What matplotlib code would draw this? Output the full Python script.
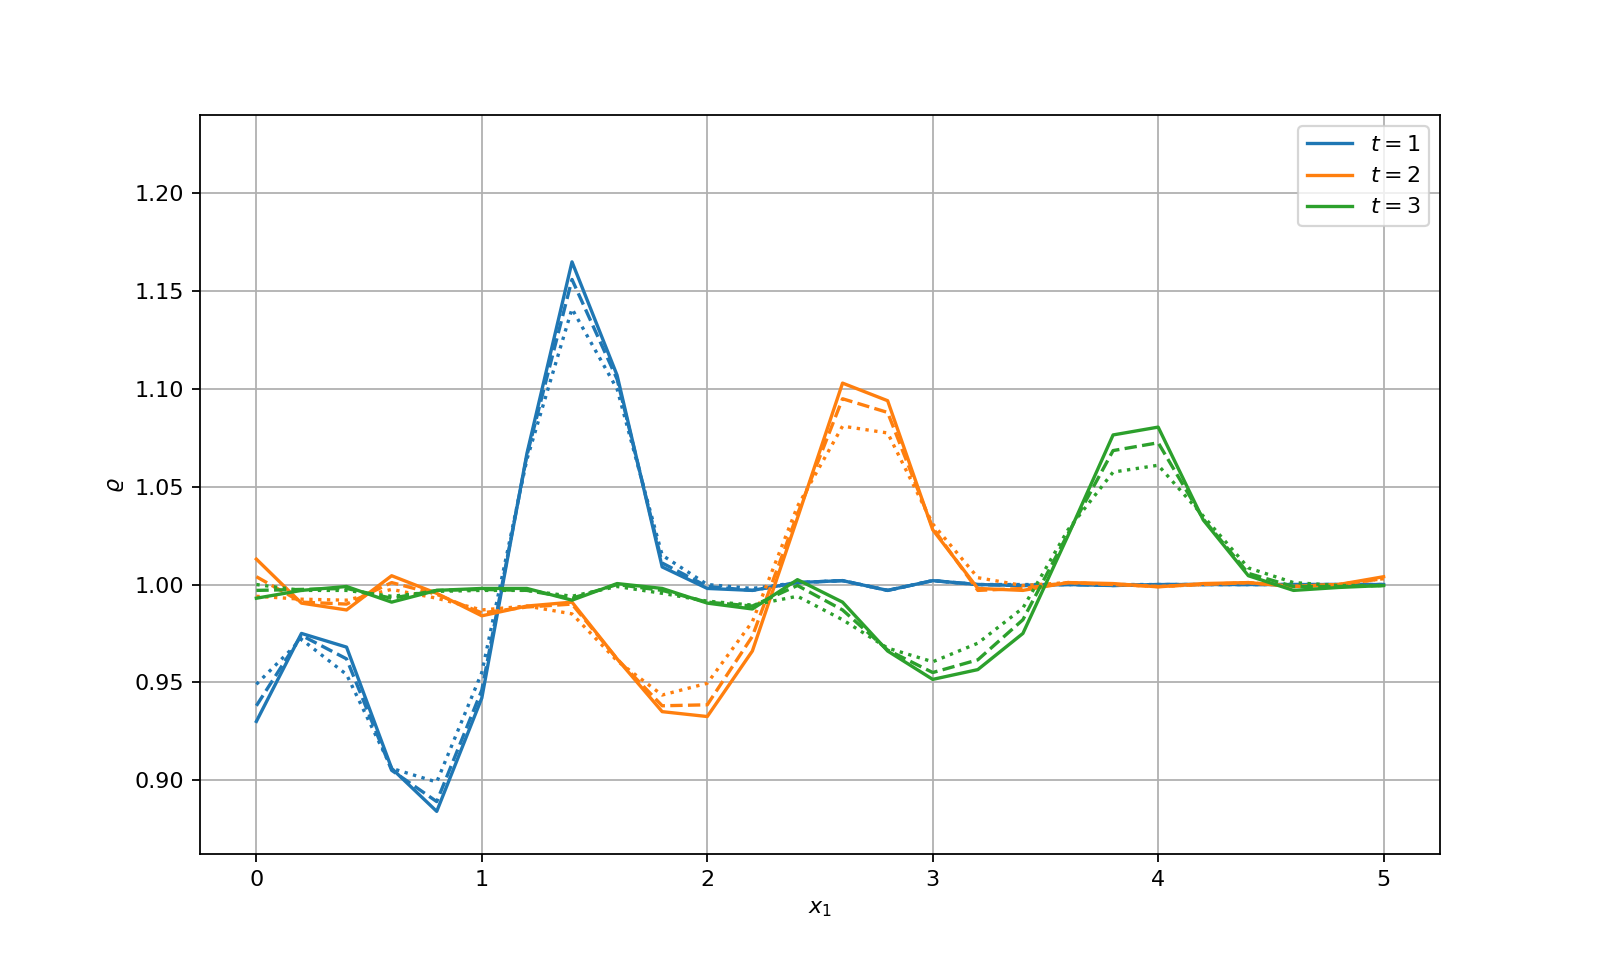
import numpy as np
import matplotlib
matplotlib.use('Agg')
import matplotlib.pyplot as plt

x = np.round(np.arange(0, 5.01, 0.2), 1)

# density at t = 1, 2, 3; three resolutions each (solid / dashed / dotted)
rho_t1 = [
    [0.930, 0.975, 0.968, 0.906, 0.884, 0.942, 1.067, 1.165, 1.107, 1.009, 0.998, 0.997, 1.001,
     1.002, 0.997, 1.002, 1.000, 0.9995, 1.000, 0.9995, 1.000, 1.000, 1.000, 1.000, 1.000, 1.000],
    [0.938, 0.974, 0.962, 0.905, 0.889, 0.946, 1.066, 1.156, 1.105, 1.011, 0.999, 0.997, 1.001,
     1.002, 0.997, 1.002, 1.000, 0.9995, 1.000, 0.9995, 1.000, 1.000, 1.000, 1.000, 1.000, 1.000],
    [0.949, 0.972, 0.954, 0.906, 0.899, 0.955, 1.064, 1.141, 1.100, 1.015, 1.000, 0.998, 1.001,
     1.002, 0.997, 1.002, 1.000, 1.000, 1.000, 1.000, 1.000, 1.000, 1.000, 1.000, 1.000, 1.000],
]
rho_t2 = [
    [1.013, 0.9905, 0.987, 1.0045, 0.9955, 0.984, 0.989, 0.991, 0.962, 0.935, 0.9325, 0.966, 1.034,
     1.103, 1.094, 1.028, 0.998, 0.997, 1.001, 1.0005, 0.9988, 1.0005, 1.001, 0.999, 1.000, 1.004],
    [1.004, 0.991, 0.990, 1.001, 0.995, 0.9855, 0.9885, 0.990, 0.962, 0.938, 0.9385, 0.9735, 1.036,
     1.095, 1.088, 1.029, 0.997, 0.998, 1.001, 1.000, 0.999, 1.000, 1.001, 0.999, 1.000, 1.003],
    [0.994, 0.9925, 0.992, 0.9975, 0.993, 0.987, 0.989, 0.985, 0.961, 0.9435, 0.9495, 0.981, 1.040,
     1.081, 1.0775, 1.031, 1.0035, 0.9995, 1.001, 1.000, 0.999, 1.000, 1.001, 0.999, 1.000, 1.003],
]
rho_t3 = [
    [0.993, 0.997, 0.999, 0.991, 0.997, 0.998, 0.998, 0.992, 1.0005, 0.998, 0.9905, 0.9875, 1.0025,
     0.991, 0.966, 0.9515, 0.9565, 0.975, 1.025, 1.0765, 1.0805, 1.033, 1.0045, 0.997, 0.9985, 0.9995],
    [0.997, 0.9975, 0.998, 0.993, 0.997, 0.9975, 0.997, 0.993, 1.000, 0.997, 0.991, 0.989, 0.9995,
     0.987, 0.9665, 0.955, 0.9615, 0.982, 1.026, 1.0685, 1.0725, 1.0335, 1.0057, 0.999, 0.999, 0.9995],
    [1.000, 0.997, 0.997, 0.994, 0.9965, 0.997, 0.997, 0.994, 0.999, 0.9955, 0.9915, 0.9895, 0.994,
     0.982, 0.9675, 0.9605, 0.970, 0.988, 1.028, 1.0575, 1.061, 1.035, 1.0085, 1.001, 0.9995, 0.9995],
]

times = [1, 2, 3]
colors = ['C0', 'C1', 'C2']
styles = ['-', '--', ':']

fig, ax = plt.subplots(figsize=(10, 6), dpi=160)

for t, c, runs in zip(times, colors, [rho_t1, rho_t2, rho_t3]):
    for k, (ls, y) in enumerate(zip(styles, runs)):
        ax.plot(x, y, color=c, linestyle=ls,
                label=f'$t = {t}$' if k == 0 else None)

ax.set_ylim(0.862, 1.24)
ax.set_xlabel('$x_1$')
ax.set_ylabel(r'$\varrho$')
ax.grid(True)
ax.legend(loc='upper right')

fig.savefig('out.png', dpi=160)
